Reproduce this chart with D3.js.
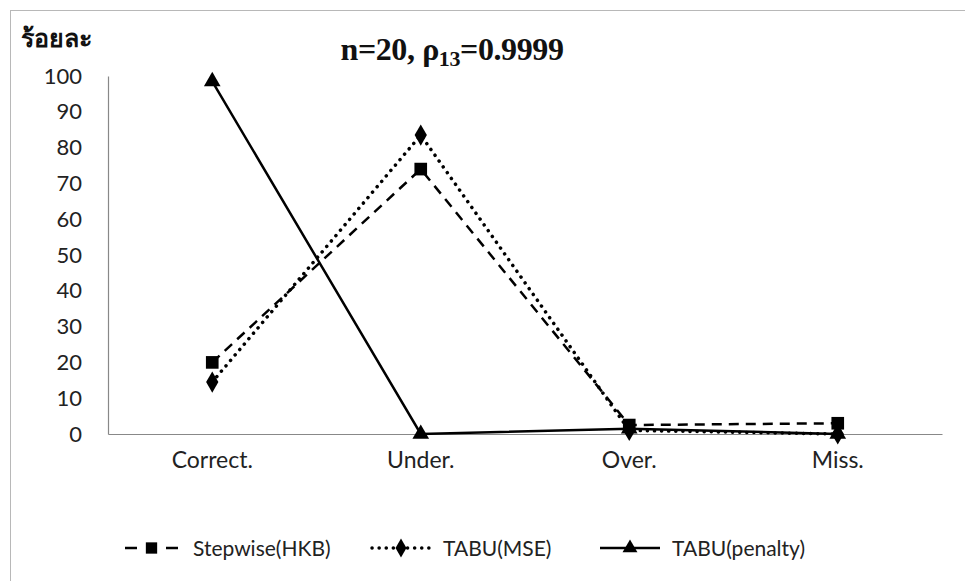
<!DOCTYPE html>
<html>
<head>
<meta charset="utf-8">
<script src="https://cdn.jsdelivr.net/npm/d3@7"></script>
<style>
  html, body { margin: 0; padding: 0; background: #fff; }
  svg { display: block; }
</style>
</head>
<body>
<svg id="chart" width="965" height="581"></svg>
<script>
// Categories on the x axis
const categories = ["Correct.", "Under.", "Over.", "Miss."];
// Percentages for each method
const stepwiseHKB = [20, 74, 2.5, 3];
const tabuMSE = [14.5, 83.5, 1, 0];
const tabuPenalty = [98.5, 0, 1.5, 0];
// Y axis ticks
const yTicks = [0, 10, 20, 30, 40, 50, 60, 70, 80, 90, 100];

const seriesNames = ["Stepwise(HKB)", "TABU(MSE)", "TABU(penalty)"];
const seriesValues = [stepwiseHKB, tabuMSE, tabuPenalty];
const seriesStyles = [
  { dash: "10,7", legendDash: "12,29", cap: "butt", width: 2.5, marker: d3.symbolSquare, size: 160 },
  { dash: "0.1,7", legendDash: "0.1,7", cap: "round", width: 3.5, marker: d3.symbolDiamond, size: 130 },
  { dash: null, legendDash: null, cap: "butt", width: 2.5, marker: d3.symbolTriangle, size: 120 }
];

const svg = d3.select("#chart");
const tickFont = "Lato, 'Open Sans', sans-serif";

// Outer chart frame
svg.append("rect")
  .attr("x", 10.5).attr("y", 10.5)
  .attr("width", 1000).attr("height", 1000)
  .attr("fill", "none").attr("stroke", "#b8b8b8").attr("stroke-width", 1);

const plot = { left: 108, right: 942, top: 76, bottom: 434 };

const x = d3.scaleBand().domain(categories).range([plot.left, plot.right]);
const y = d3.scaleLinear().domain([0, 100]).range([plot.bottom, plot.top]);

// Y axis
const yAxis = svg.append("g")
  .attr("transform", `translate(${plot.left},0)`)
  .call(d3.axisLeft(y).tickValues(yTicks).tickSize(0).tickPadding(26));
yAxis.select(".domain").attr("stroke", "#888").attr("stroke-width", 1.2);
yAxis.selectAll("text")
  .attr("font-family", tickFont).attr("font-size", 22).attr("fill", "#222");

// X axis
const xAxis = svg.append("g")
  .attr("transform", `translate(0,${plot.bottom})`)
  .call(d3.axisBottom(x).tickSize(0).tickPadding(18));
xAxis.select(".domain").attr("stroke", "#888").attr("stroke-width", 1.2);
xAxis.selectAll("text")
  .attr("font-family", tickFont).attr("font-size", 23).attr("fill", "#222");

// Series lines and markers
const cx = c => x(c) + x.bandwidth() / 2;
seriesValues.forEach((vals, i) => {
  const st = seriesStyles[i];
  const line = d3.line().x((d, j) => cx(categories[j])).y(d => y(d));
  svg.append("path")
    .datum(vals)
    .attr("d", line)
    .attr("fill", "none")
    .attr("stroke", "#000")
    .attr("stroke-width", st.width)
    .attr("stroke-linecap", st.cap)
    .attr("stroke-dasharray", st.dash);
  svg.append("g").selectAll("path")
    .data(vals)
    .join("path")
    .attr("transform", (d, j) => `translate(${cx(categories[j])},${y(d)})`)
    .attr("d", d3.symbol().type(st.marker).size(st.size))
    .attr("fill", "#000");
});

// Title
const title = svg.append("text")
  .attr("x", 452).attr("y", 60)
  .attr("text-anchor", "middle")
  .attr("font-family", "'Liberation Serif', 'Times New Roman', serif")
  .attr("font-weight", "bold")
  .attr("font-size", 32)
  .attr("letter-spacing", -0.4)
  .attr("fill", "#111");
title.append("tspan").text("n=20, ρ");
title.append("tspan").attr("dy", 6).attr("font-size", 22).text("13");
title.append("tspan").attr("dy", -6).text("=0.9999");

// Y axis caption
svg.append("text")
  .attr("x", 21).attr("y", 47)
  .attr("font-family", "'Noto Sans', 'DejaVu Sans', sans-serif")
  .attr("font-weight", "bold")
  .attr("font-size", 25)
  .attr("fill", "#111")
  .text("ร้อยละ");

// Legend
const legendY = 548;
const legendItems = [
  { x0: 125, x1: 178, tx: 193 },
  { x0: 372, x1: 430, tx: 443 },
  { x0: 600, x1: 660, tx: 672 }
];
legendItems.forEach((it, i) => {
  const st = seriesStyles[i];
  svg.append("line")
    .attr("x1", it.x0).attr("x2", it.x1)
    .attr("y1", legendY).attr("y2", legendY)
    .attr("stroke", "#000")
    .attr("stroke-width", st.width)
    .attr("stroke-linecap", st.cap)
    .attr("stroke-dasharray", st.legendDash);
  svg.append("path")
    .attr("transform", `translate(${(it.x0 + it.x1) / 2},${legendY})`)
    .attr("d", d3.symbol().type(st.marker).size(st.size * 0.8))
    .attr("fill", "#000");
  svg.append("text")
    .attr("x", it.tx).attr("y", legendY + 8)
    .attr("font-family", tickFont).attr("font-size", 21).attr("fill", "#222")
    .text(seriesNames[i]);
});
</script>
</body>
</html>
